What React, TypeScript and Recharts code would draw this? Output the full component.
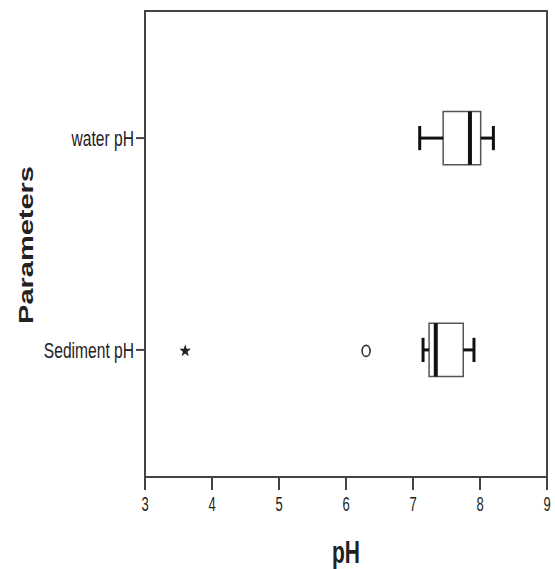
import React from "react";
import {
  ReferenceArea,
  ReferenceLine,
  Scatter,
  ScatterChart,
  XAxis,
  YAxis,
} from "recharts";

const categories = ["Sediment pH", "water pH"];
const lowerWhisker = [7.15, 7.1];
const q1 = [7.24, 7.45];
const median = [7.34, 7.85];
const q3 = [7.75, 8.01];
const upperWhisker = [7.91, 8.2];

const outlierValues = [3.6, 6.3];
const outlierCategory = ["Sediment pH", "Sediment pH"];
const outlierKind = ["extreme", "outlier"];

const xTicks = [3, 4, 5, 6, 7, 8, 9];

const FONT = '"Liberation Sans", Arial, sans-serif';
const BOX_HALF = 0.126;
const CAP_HALF = 0.057;

const posOf = (name: string) => categories.indexOf(name) + 1;

const outlierPoints = outlierValues.map((v, i) => ({
  value: v,
  pos: posOf(outlierCategory[i]),
  kind: outlierKind[i],
}));

function XTick({ x, y, payload }: any) {
  return (
    <text
      transform={`translate(${x},${y}) scale(1,1.5)`}
      textAnchor="middle"
      dy="0.71em"
      fontSize={13}
      fontFamily={FONT}
      fill="#222"
    >
      {payload.value}
    </text>
  );
}

function YTick({ x, y, payload }: any) {
  const name = categories[payload.value - 1] ?? "";
  return (
    <text
      transform={`translate(${x},${y}) scale(1,1.4)`}
      textAnchor="end"
      dy="0.355em"
      fontSize={15.6}
      fontFamily={FONT}
      fill="#222"
    >
      {name}
    </text>
  );
}

function OutlierMark(props: any) {
  const { cx, cy, payload } = props;
  if (payload.kind === "extreme") {
    const pts: string[] = [];
    for (let k = 0; k < 10; k++) {
      const r = k % 2 === 0 ? 6 : 2.4;
      const a = -Math.PI / 2 + (k * Math.PI) / 5;
      pts.push(`${cx + r * Math.cos(a)},${cy + 1 + r * Math.sin(a) * 1.1}`);
    }
    return <polygon points={pts.join(" ")} fill="#222" />;
  }
  return <ellipse cx={cx} cy={cy + 1} rx={4} ry={5.5} fill="none" stroke="#333" strokeWidth={1.6} />;
}

export default function App() {
  return (
    <div style={{ position: "absolute", left: 0, top: 0, background: "#fff" }}>
      <ScatterChart width={555} height={569} margin={{ top: 11, right: 8, bottom: 0, left: 0 }}>
        <XAxis
          type="number"
          dataKey="value"
          domain={[3, 9]}
          ticks={xTicks}
          allowDataOverflow
          height={92}
          tickSize={13}
          tickMargin={7}
          tick={<XTick />}
          axisLine={{ stroke: "#444", strokeWidth: 2 }}
          tickLine={{ stroke: "#444", strokeWidth: 2 }}
          label={{
            content: ({ viewBox }: any) => (
              <text
                transform={`translate(${viewBox.x + viewBox.width / 2},563) scale(1,1.45)`}
                textAnchor="middle"
                fontSize={21}
                fontWeight="bold"
                fontFamily={FONT}
                fill="#222"
              >
                pH
              </text>
            ),
          }}
        />
        <YAxis
          type="number"
          dataKey="pos"
          domain={[0.4, 2.6]}
          ticks={[1, 2]}
          allowDataOverflow
          width={145}
          tickSize={9}
          tickMargin={2}
          tick={<YTick />}
          axisLine={{ stroke: "#444", strokeWidth: 2 }}
          tickLine={{ stroke: "#444", strokeWidth: 2 }}
          label={{
            content: () => (
              <text
                transform="translate(33,245) scale(1,1.45) rotate(-90)"
                textAnchor="middle"
                fontSize={20}
                fontWeight="bold"
                fontFamily={FONT}
                fill="#222"
              >
                Parameters
              </text>
            ),
          }}
        />
        <ReferenceArea
          x1={3}
          x2={9}
          y1={0.4}
          y2={2.6}
          fill="none"
          fillOpacity={0}
          stroke="#444"
          strokeWidth={2}
        />
        {categories.map((c, i) => {
          const p = i + 1;
          return (
            <React.Fragment key={c}>
              <ReferenceLine
                segment={[{ x: lowerWhisker[i], y: p }, { x: q1[i], y: p }]}
                stroke="#111"
                strokeWidth={3}
              />
              <ReferenceLine
                segment={[{ x: q3[i], y: p }, { x: upperWhisker[i], y: p }]}
                stroke="#111"
                strokeWidth={3}
              />
              <ReferenceLine
                segment={[{ x: lowerWhisker[i], y: p - CAP_HALF }, { x: lowerWhisker[i], y: p + CAP_HALF }]}
                stroke="#111"
                strokeWidth={3}
              />
              <ReferenceLine
                segment={[{ x: upperWhisker[i], y: p - CAP_HALF }, { x: upperWhisker[i], y: p + CAP_HALF }]}
                stroke="#111"
                strokeWidth={3}
              />
              <ReferenceArea
                x1={q1[i]}
                x2={q3[i]}
                y1={p - BOX_HALF}
                y2={p + BOX_HALF}
                fill="#fff"
                fillOpacity={1}
                stroke="#555"
                strokeWidth={1.5}
              />
              <ReferenceLine
                segment={[{ x: median[i], y: p - BOX_HALF }, { x: median[i], y: p + BOX_HALF }]}
                stroke="#111"
                strokeWidth={4}
              />
            </React.Fragment>
          );
        })}
        <Scatter data={outlierPoints} shape={<OutlierMark />} isAnimationActive={false} />
      </ScatterChart>
    </div>
  );
}
